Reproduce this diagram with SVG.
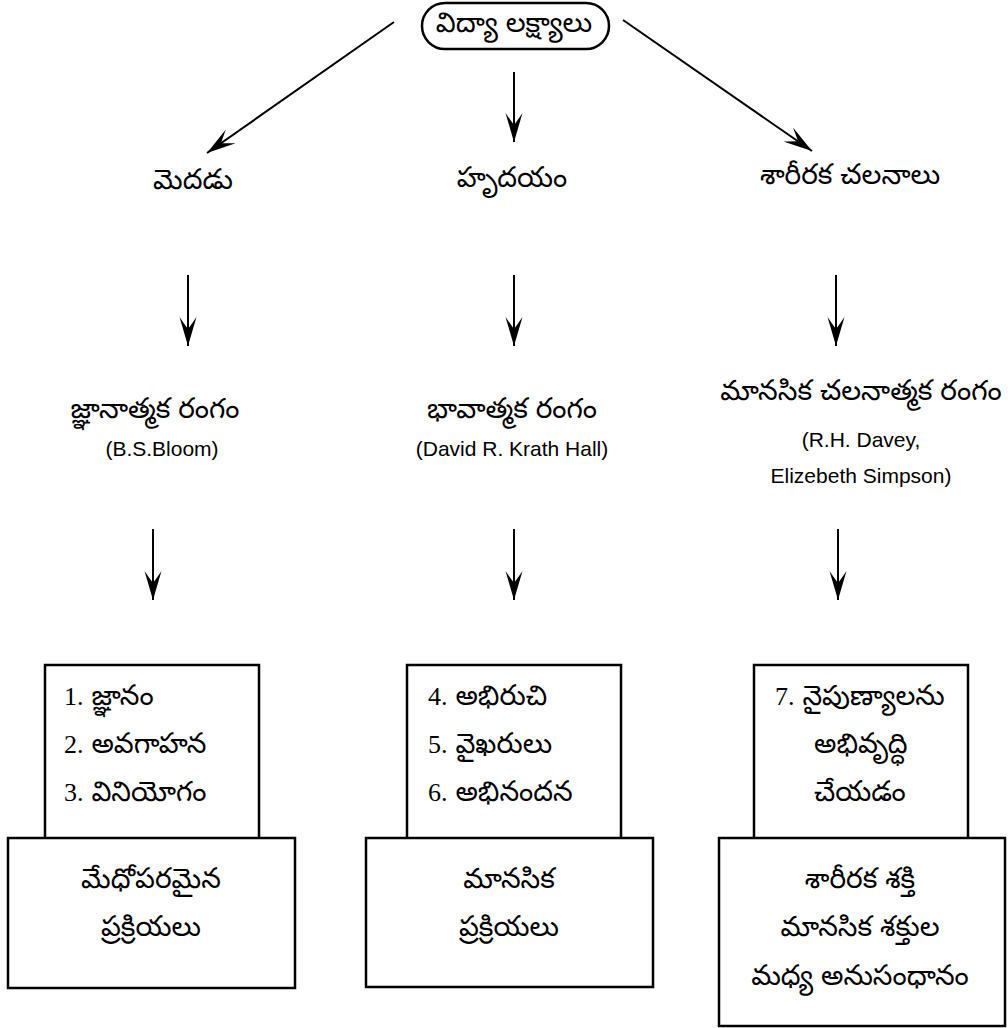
<svg xmlns="http://www.w3.org/2000/svg" width="1008" height="1028" viewBox="0 0 1008 1028">
<style>
.t{font-family:"Noto Sans Telugu","Noto Sans",sans-serif;font-size:28px;fill:#000;text-anchor:middle}
.ts{font-family:"Noto Sans Telugu","Noto Sans",sans-serif;font-size:28px;fill:#000}
.l{font-family:"Liberation Sans",Arial,sans-serif;font-size:21px;fill:#000;text-anchor:middle}
.n{font-family:"Liberation Serif","Times New Roman",serif;font-size:26px}
.box{fill:#fff;stroke:#000;stroke-width:2.5}
.c{stroke:#000;stroke-width:2;fill:none}
</style>
<defs>
<marker id="ah" markerUnits="userSpaceOnUse" viewBox="-31 -10 32 20" markerWidth="32" markerHeight="20" refX="0" refY="0" orient="auto">
<path d="M0,0 L-29,-8.5 Q-21,-3 -17,0 Q-21,3 -29,8.5 Z" fill="#000"/>
</marker>
</defs>
<rect width="1008" height="1028" fill="#fff"/>
<g id="connectors">
<line class="c" x1="394" y1="22" x2="207" y2="153" marker-end="url(#ah)"/>
<line class="c" x1="514" y1="72" x2="514" y2="142" marker-end="url(#ah)"/>
<line class="c" x1="623" y1="20" x2="812" y2="151" marker-end="url(#ah)"/>
<line class="c" x1="188" y1="275" x2="188" y2="346" marker-end="url(#ah)"/>
<line class="c" x1="514" y1="275" x2="514" y2="346" marker-end="url(#ah)"/>
<line class="c" x1="836" y1="275" x2="836" y2="346" marker-end="url(#ah)"/>
<line class="c" x1="153" y1="529" x2="153" y2="600" marker-end="url(#ah)"/>
<line class="c" x1="514" y1="529" x2="514" y2="600" marker-end="url(#ah)"/>
<line class="c" x1="838" y1="529" x2="838" y2="600" marker-end="url(#ah)"/>
</g>
<g id="root">
<rect class="box" x="422" y="3" width="187" height="46" rx="23"/>
<text class="t" x="514" y="32">విద్యా లక్ష్యాలు</text>
</g>
<g id="brain"><text class="t" x="193" y="189">మెదడు</text></g>
<g id="heart"><text class="t" x="512" y="187">హృదయం</text></g>
<g id="body"><text class="t" x="850" y="184">శారీరక చలనాలు</text></g>
<g id="cognitive">
<text class="t" x="155" y="418">జ్ఞానాత్మక రంగం</text>
<text class="l" x="162" y="456">(B.S.Bloom)</text>
</g>
<g id="affective">
<text class="t" x="512" y="418">భావాత్మక రంగం</text>
<text class="l" x="512" y="456">(David R. Krath Hall)</text>
</g>
<g id="psychomotor">
<text class="t" x="861" y="400">మానసిక చలనాత్మక రంగం</text>
<text class="l" x="861" y="447">(R.H. Davey,</text>
<text class="l" x="861" y="483">Elizebeth Simpson)</text>
</g>
<g id="cog-levels">
<rect class="box" x="45" y="665" width="214" height="174"/>
<text class="ts" x="64" y="705"><tspan class="n">1.</tspan> జ్ఞానం</text>
<text class="ts" x="64" y="753"><tspan class="n">2.</tspan> అవగాహన</text>
<text class="ts" x="64" y="801"><tspan class="n">3.</tspan> వినియోగం</text>
</g>
<g id="aff-levels">
<rect class="box" x="407" y="665" width="214" height="174"/>
<text class="ts" x="428" y="705"><tspan class="n">4.</tspan> అభిరుచి</text>
<text class="ts" x="428" y="753"><tspan class="n">5.</tspan> వైఖరులు</text>
<text class="ts" x="428" y="801"><tspan class="n">6.</tspan> అభినందన</text>
</g>
<g id="psy-levels">
<rect class="box" x="754" y="665" width="214" height="174"/>
<text class="ts" x="775" y="705"><tspan class="n">7.</tspan> నైపుణ్యాలను</text>
<text class="ts" x="814" y="753">అభివృద్ధి</text>
<text class="ts" x="814" y="801">చేయడం</text>
</g>
<g id="cog-process">
<rect class="box" x="8" y="838" width="287" height="150"/>
<text class="t" x="151" y="888">మేధోపరమైన</text>
<text class="t" x="151" y="936">ప్రక్రియలు</text>
</g>
<g id="aff-process">
<rect class="box" x="366" y="838" width="287" height="149"/>
<text class="t" x="509" y="888">మానసిక</text>
<text class="t" x="509" y="936">ప్రక్రియలు</text>
</g>
<g id="psy-process">
<rect class="box" x="719" y="838" width="286" height="188"/>
<text class="t" x="860" y="888">శారీరక శక్తి</text>
<text class="t" x="860" y="936">మానసిక శక్తుల</text>
<text class="t" x="860" y="985">మధ్య అనుసంధానం</text>
</g>
</svg>
